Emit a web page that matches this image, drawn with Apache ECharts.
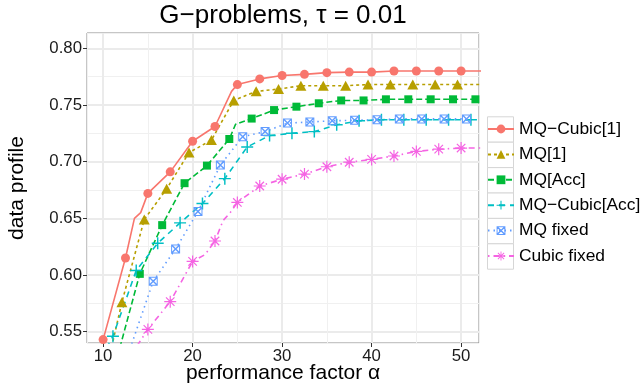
<!DOCTYPE html>
<html>
<head>
<meta charset="utf-8">
<script src="https://cdn.jsdelivr.net/npm/echarts@6/dist/echarts.min.js"></script>
<style>
  html, body { margin: 0; padding: 0; background: #fff; }
  #chart { width: 642px; height: 387px; }
</style>
</head>
<body>
<div id="chart"></div>
<script>
// names shown in legend (ggplot order)
const seriesNames = ['MQ−Cubic[1]', 'MQ[1]', 'MQ[Acc]', 'MQ−Cubic[Acc]', 'MQ fixed', 'Cubic fixed'];
const xTickValues = [10, 20, 30, 40, 50];
const yTickValues = [0.55, 0.60, 0.65, 0.70, 0.75, 0.80];

// marker points [alpha, profile]
const mqCubic1 = [[10, 0.543], [12.5, 0.615], [15, 0.672], [17.5, 0.691], [20, 0.718], [22.5, 0.731],
  [25, 0.768], [27.5, 0.773], [30, 0.776], [32.5, 0.777], [35, 0.7785], [37.5, 0.779], [40, 0.779],
  [42.5, 0.780], [45, 0.780], [47.5, 0.780], [50, 0.780], [52.5, 0.780]];
const mq1 = [[9.6, 0.49], [12.1, 0.576], [14.6, 0.649], [17.1, 0.676], [19.6, 0.708], [22.1, 0.719],
  [24.6, 0.754], [27.1, 0.762], [29.6, 0.764], [32.1, 0.767], [34.6, 0.767], [37.1, 0.767], [39.6, 0.768],
  [42.1, 0.768], [44.6, 0.768], [47.1, 0.768], [49.6, 0.768], [52.1, 0.768]];
const mqAcc = [[11.6, 0.528], [14.1, 0.601], [16.6, 0.644], [19.1, 0.681], [21.6, 0.6965], [24.1, 0.720],
  [26.6, 0.738], [29.1, 0.7455], [31.6, 0.7485], [34.1, 0.7515], [36.6, 0.754], [39.1, 0.754], [41.6, 0.755],
  [44.1, 0.755], [46.6, 0.755], [49.1, 0.755], [51.6, 0.755]];
const mqCubicAcc = [[8.6, 0.51], [11.1, 0.546], [13.7, 0.604], [16.1, 0.628], [18.6, 0.646], [21.1, 0.663],
  [23.6, 0.685], [26.1, 0.713], [28.6, 0.723], [31.1, 0.725], [33.6, 0.7265], [36.1, 0.7325], [38.6, 0.736],
  [41.1, 0.737], [43.6, 0.737], [46.1, 0.737], [48.6, 0.737], [51.1, 0.737]];
const mqFixed = [[10.6, 0.49], [13.1, 0.537], [15.6, 0.5945], [18.1, 0.623], [20.6, 0.656], [23.1, 0.697],
  [25.6, 0.722], [28.1, 0.7265], [30.6, 0.734], [33.1, 0.735], [35.6, 0.736], [38.1, 0.7365], [40.6, 0.737],
  [43.1, 0.7377], [45.6, 0.7377], [48.1, 0.7377], [50.6, 0.7377]];
const cubicFixed = [[12.5, 0.522], [15, 0.552], [17.5, 0.5765], [20, 0.612], [22.5, 0.630], [25, 0.664],
  [27.5, 0.6785], [30, 0.6845], [32.5, 0.689], [35, 0.6955], [37.5, 0.6995], [40, 0.702], [42.5, 0.705],
  [45, 0.709], [47.5, 0.711], [50, 0.712], [52.5, 0.712]];

// bends of the lines between markers (no marker drawn there)
const mqCubic1Bends = [[13.5, 0.650], [14.2, 0.655], [24.35, 0.762]];
const mq1Bends = [];
const mqAccBends = [[24.8, 0.733]];
const mqCubicAccBends = [];
const mqFixedBends = [];
const cubicFixedBends = [[21.4, 0.618], [23.4, 0.648], [24.2, 0.655]];

// thin filled bars -> ggplot-like open symbols
function bar(cx, cy, ang, half, t) {
  const dx = Math.cos(ang), dy = Math.sin(ang), nx = -dy, ny = dx;
  const p = [[-half, -t], [half, -t], [half, t], [-half, t]].map(([a, b]) =>
    (cx + a * dx + b * nx).toFixed(3) + ',' + (cy + a * dy + b * ny).toFixed(3));
  return 'M' + p.join('L') + 'Z';
}
const plusPath = 'path://' + bar(5, 5, 0, 5, 0.6) + bar(5, 5, Math.PI / 2, 5, 0.6);
const starPath = 'path://' + [0, 1, 2, 3].map(i => bar(5, 5, i * Math.PI / 4, 5, 0.5)).join('');
const boxXPath = 'path://M0,0L10,0L10,10L0,10Z M1.1,1.1L1.1,8.9L8.9,8.9L8.9,1.1Z' +
  'M0,0L1.1,0L10,8.9L10,10L8.9,10L0,1.1Z M10,0L10,1.1L1.1,10L0,10L0,8.9L8.9,0Z';

const colors = ['#F8766D', '#B79F00', '#00BA38', '#00BFC4', '#619CFF', '#F564E3'];
const dashes = ['solid', [3, 3], [6, 3], [6, 5], [1.5, 4], [1.5, 4, 6, 4]];
const symbols = ['circle', 'triangle', 'rect', plusPath, boxXPath, starPath];
const symbolSizes = [9, [11, 10], 8, 12, 9, 12];
const markSets = [mqCubic1, mq1, mqAcc, mqCubicAcc, mqFixed, cubicFixed];
const bendSets = [mqCubic1Bends, mq1Bends, mqAccBends, mqCubicAccBends, mqFixedBends, cubicFixedBends];

function buildData(marks, bends) {
  const pts = marks.map(p => ({ value: p }))
    .concat(bends.map(p => ({ value: p, symbol: 'none' })));
  pts.sort((a, b) => a.value[0] - b.value[0]);
  return pts;
}

const series = seriesNames.map((name, i) => ({
  name: name,
  type: 'line',
  data: buildData(markSets[i], bendSets[i]),
  xAxisIndex: 0,
  yAxisIndex: 0,
  symbol: symbols[i],
  symbolSize: symbolSizes[i],
  showSymbol: true,
  clip: true,
  silent: true,
  lineStyle: { color: colors[i], width: 1.6, type: dashes[i] },
  itemStyle: { color: colors[i], borderWidth: 0 },
  emphasis: { disabled: true }
}));

const isTick = (v, list) => list.some(t => Math.abs(t - v) < 1e-6);
const labelStyle = { color: '#1a1a1a', fontSize: 16.8 };

const chart = echarts.init(document.getElementById('chart'));
chart.setOption({
  animation: false,
  textStyle: { fontFamily: 'Liberation Sans, Arial, sans-serif' },
  title: {
    text: 'G−problems, τ = 0.01',
    left: 283,
    top: 3,
    padding: 0,
    textAlign: 'center',
    textStyle: { fontSize: 26, fontWeight: 'normal', color: '#000' }
  },
  grid: {
    left: 87, right: 163, top: 33, bottom: 44,
    containLabel: false,
    outerBoundsMode: 'none',
    show: true, borderColor: '#8c8c8c', borderWidth: 1, backgroundColor: '#fff'
  },
  xAxis: [
    {
      type: 'value', min: 8.2, max: 52, splitNumber: 5,
      name: 'performance factor α', nameLocation: 'middle', nameGap: 19.5, nameMoveOverlap: false,
      nameTextStyle: { fontSize: 21, color: '#000' },
      axisLine: { show: false },
      axisTick: { show: true, length: 4, customValues: xTickValues, lineStyle: { color: '#333' } },
      axisLabel: { ...labelStyle, margin: 5, customValues: xTickValues,
        formatter: v => isTick(v, xTickValues) ? String(v) : '' },
      splitLine: { show: true, lineStyle: { color: '#ebebeb', width: 2 } }
    },
    {
      // minor grid lines at 15, 25, 35, 45
      type: 'value', min: 3.2, max: 47, splitNumber: 5, position: 'bottom',
      axisLine: { show: false }, axisTick: { show: false }, axisLabel: { show: false },
      splitLine: { show: true, lineStyle: { color: '#f0f0f0', width: 1 } }
    }
  ],
  yAxis: [
    {
      type: 'value', min: 0.540, max: 0.8135, splitNumber: 5,
      name: 'data profile', nameLocation: 'middle', nameGap: 59, nameMoveOverlap: false,
      nameTextStyle: { fontSize: 21, color: '#000' },
      axisLine: { show: false },
      axisTick: { show: true, length: 4, customValues: yTickValues, lineStyle: { color: '#333' } },
      axisLabel: { ...labelStyle, margin: 5, customValues: yTickValues,
        formatter: v => isTick(v, yTickValues) ? v.toFixed(2) : '' },
      splitLine: { show: true, lineStyle: { color: '#ebebeb', width: 2 } }
    },
    {
      // minor grid lines at 0.575 ... 0.775 (axis shifted by 0.525)
      type: 'value', min: 0.015, max: 0.2885, splitNumber: 5, position: 'left',
      axisLine: { show: false }, axisTick: { show: false }, axisLabel: { show: false },
      splitLine: { show: true, lineStyle: { color: '#f0f0f0', width: 1 } }
    }
  ],
  legend: {
    orient: 'vertical',
    left: 487,
    top: 119,
    padding: 0,
    itemWidth: 26,
    itemHeight: 11,
    itemGap: 5.4,
    selectedMode: false,
    data: seriesNames,
    textStyle: { fontSize: 17.4, color: '#000', lineHeight: 20 }
  },
  graphic: seriesNames.map((n, i) => ({
    type: 'rect',
    left: 487,
    top: 116.3 + 25.4 * i,
    shape: { width: 26, height: 25.4 },
    style: { fill: '#fff', stroke: '#d6d6d6', lineWidth: 1 },
    silent: true,
    z: -1
  })),
  series: series
});
</script>
</body>
</html>
